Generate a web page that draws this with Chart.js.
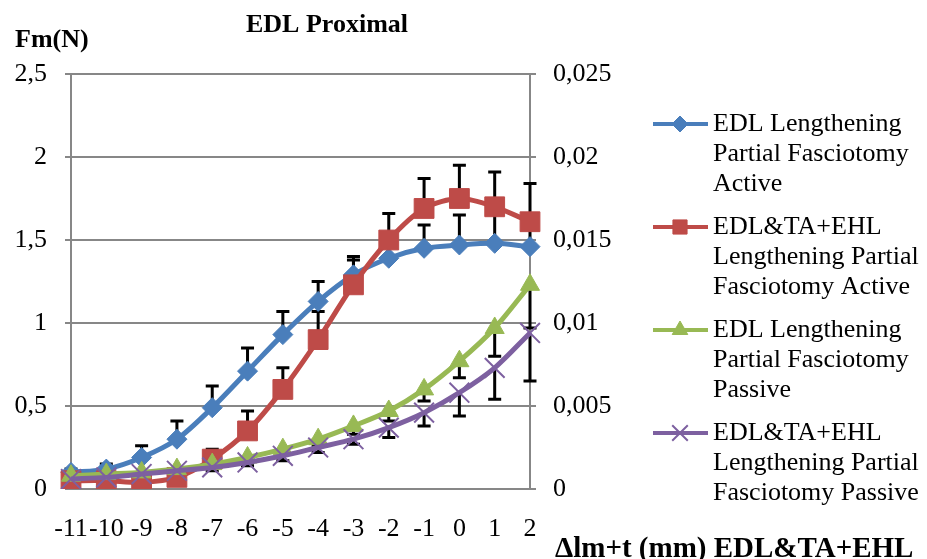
<!DOCTYPE html>
<html>
<head>
<meta charset="utf-8">
<script src="https://cdn.jsdelivr.net/npm/chart.js"></script>
<style>
  html, body { margin: 0; padding: 0; background: #fff; }
  #wrap { position: relative; width: 927px; height: 559px; }
</style>
</head>
<body>
<div id="wrap"><canvas id="chart" width="927" height="559"></canvas></div>
<script>
// categories (Δlm+t, mm)
const categories = ['-11','-10','-9','-8','-7','-6','-5','-4','-3','-2','-1','0','1','2'];

// active force, left axis (N)
const edlActive      = [0.10, 0.12, 0.19, 0.30, 0.49, 0.71, 0.93, 1.13, 1.29, 1.39, 1.45, 1.47, 1.48, 1.46];
const edlActiveErr   = [0.02, 0.03, 0.07, 0.11, 0.13, 0.14, 0.14, 0.12, 0.09, 0.10, 0.14, 0.18, 0.22, 0.15];
const allActive      = [0.05, 0.05, 0.04, 0.07, 0.18, 0.35, 0.60, 0.90, 1.23, 1.50, 1.69, 1.75, 1.70, 1.61];
const allActiveErr   = [0.01, 0.01, 0.01, 0.02, 0.06, 0.12, 0.13, 0.17, 0.17, 0.16, 0.18, 0.20, 0.21, 0.23];

// passive force, right axis
const edlPassive     = [0.0008, 0.0009, 0.0010, 0.0012, 0.0015, 0.0019, 0.0024, 0.0030, 0.0038, 0.0047, 0.0060, 0.0077, 0.0097, 0.0123];
const edlPassiveErr  = [0.0001, 0.0001, 0.0001, 0.0002, 0.0002, 0.0003, 0.0003, 0.0004, 0.0005, 0.0006, 0.0007, 0.0010, 0.0017, 0.0026];
const allPassive     = [0.0006, 0.0007, 0.0009, 0.0011, 0.0013, 0.0016, 0.0020, 0.0025, 0.0030, 0.0037, 0.0046, 0.0058, 0.0073, 0.0094];
const allPassiveErr  = [0.0001, 0.0001, 0.0001, 0.0002, 0.0002, 0.0002, 0.0003, 0.0003, 0.0003, 0.0006, 0.0008, 0.0014, 0.0019, 0.0029];

const seriesNames = [
  ['EDL Lengthening', 'Partial Fasciotomy', 'Active'],
  ['EDL&TA+EHL', 'Lengthening Partial', 'Fasciotomy Active'],
  ['EDL Lengthening', 'Partial Fasciotomy', 'Passive'],
  ['EDL&TA+EHL', 'Lengthening Partial', 'Fasciotomy Passive']
];

const FONT = "'Liberation Serif', 'Times New Roman', serif";
const GRID = '#878787';

function comma(v) {
  return String(parseFloat(Number(v).toFixed(4))).replace('.', ',');
}

// error bars: errDir +1 up, -1 down
const errorBars = {
  id: 'errorBars',
  beforeDatasetsDraw(chart) {
    const ctx = chart.ctx;
    const xs = chart.scales.x;
    ctx.save();
    ctx.strokeStyle = '#000';
    ctx.lineWidth = 3;
    chart.data.datasets.forEach(ds => {
      const ys = chart.scales[ds.yAxisID];
      ds.data.forEach((v, i) => {
        const e = ds.errors[i];
        const x = xs.getPixelForValue(i);
        const y0 = ys.getPixelForValue(v);
        const y1 = ys.getPixelForValue(v + ds.errDir * e);
        ctx.beginPath();
        ctx.moveTo(x, y0);
        ctx.lineTo(x, y1);
        ctx.moveTo(x - 6.5, y1);
        ctx.lineTo(x + 6.5, y1);
        ctx.stroke();
      });
    });
    ctx.restore();
  }
};

// titles and legend
const decorations = {
  id: 'decorations',
  afterDraw(chart) {
    const ctx = chart.ctx;
    ctx.save();
    ctx.fillStyle = '#000';
    ctx.textBaseline = 'middle';
    ctx.font = 'bold 26px ' + FONT;
    ctx.textAlign = 'center';
    ctx.fillText('EDL Proximal', 327, 25);
    ctx.textAlign = 'left';
    ctx.fillText('Fm(N)', 15, 40);
    ctx.font = 'bold 29px ' + FONT;
    ctx.textBaseline = 'alphabetic';
    ctx.fillText('\u0394lm+t (mm) EDL&TA+EHL', 555, 557);

    ctx.textBaseline = 'middle';
    ctx.font = '26px ' + FONT;
    const tops = [124, 227, 330, 433];
    chart.data.datasets.forEach((ds, k) => {
      const y = tops[k];
      ctx.strokeStyle = ds.borderColor;
      ctx.lineWidth = 4;
      ctx.beginPath();
      ctx.moveTo(653, y);
      ctx.lineTo(708, y);
      ctx.stroke();
      if (Chart.helpers && Chart.helpers.drawPoint) {
        ctx.fillStyle = ds.pointBackgroundColor;
        ctx.strokeStyle = ds.borderColor;
        ctx.lineWidth = ds.pointBorderWidth;
        Chart.helpers.drawPoint(ctx, {
          pointStyle: ds.pointStyle,
          radius: ds.legendRadius,
          rotation: 0,
          borderWidth: ds.pointBorderWidth
        }, 680, y);
      }
      ctx.fillStyle = '#000';
      seriesNames[k].forEach((line, j) => ctx.fillText(line, 713, y + j * 30));
    });
    ctx.restore();
  }
};

function makeSet(label, data, errs, dir, axis, color, style, radius, legendRadius, order) {
  return {
    label: label,
    data: data,
    errors: errs,
    errDir: dir,
    yAxisID: axis,
    borderColor: color,
    backgroundColor: color,
    pointBackgroundColor: color,
    pointBorderColor: color,
    pointStyle: style,
    pointRadius: radius,
    pointHoverRadius: radius,
    pointBorderWidth: style === 'crossRot' ? 2 : 1,
    legendRadius: legendRadius,
    borderWidth: 5,
    tension: 0.3,
    order: order
  };
}

new Chart(document.getElementById('chart'), {
  type: 'line',
  data: {
    labels: categories,
    datasets: [
      makeSet(seriesNames[0].join(' '), edlActive, edlActiveErr, 1, 'y', '#4A7EBB', 'rectRot', 10, 8, 4),
      makeSet(seriesNames[1].join(' '), allActive, allActiveErr, 1, 'y', '#BE4B48', 'rect', 14, 10, 3),
      makeSet(seriesNames[2].join(' '), edlPassive, edlPassiveErr, -1, 'y1', '#98B954', 'triangle', 11, 9, 2),
      makeSet(seriesNames[3].join(' '), allPassive, allPassiveErr, -1, 'y1', '#7D60A0', 'crossRot', 14, 11, 1)
    ]
  },
  options: {
    responsive: false,
    animation: false,
    layout: { padding: { top: 74, right: 287, bottom: 0, left: 0 } },
    plugins: {
      legend: { display: false },
      title: { display: false },
      tooltip: { enabled: false }
    },
    scales: {
      x: {
        offset: false,
        grid: { display: true, drawOnChartArea: false, drawTicks: false, color: 'rgba(0,0,0,0)' },
        border: { display: true, color: GRID, width: 2 },
        ticks: { color: '#000', font: { family: FONT, size: 26 }, padding: 25, maxRotation: 0, autoSkip: false },
        afterFit(scale) { scale.height = 70; }
      },
      y: {
        position: 'left',
        min: 0, max: 2.5,
        grid: { color: GRID, lineWidth: 2, tickLength: 6 },
        border: { display: true, color: GRID, width: 2 },
        ticks: { stepSize: 0.5, color: '#000', font: { family: FONT, size: 26 }, padding: 18, callback: v => comma(v) },
        afterFit(scale) { scale.width = 71; }
      },
      y1: {
        position: 'right',
        min: 0, max: 0.025,
        grid: { drawOnChartArea: false, color: GRID, lineWidth: 2, tickLength: 6 },
        border: { display: true, color: GRID, width: 2 },
        ticks: { stepSize: 0.005, color: '#000', font: { family: FONT, size: 26 }, padding: 17, callback: v => comma(v) },
        afterFit(scale) { scale.width = 110; }
      }
    }
  },
  plugins: [errorBars, decorations]
});
</script>
</body>
</html>
